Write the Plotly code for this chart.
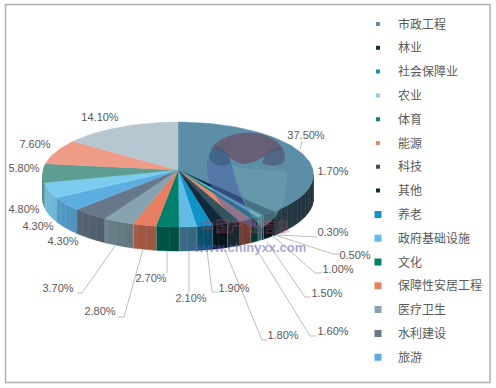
import math
import plotly.graph_objects as go

# ---- data (clockwise from 12 o'clock) ----
values = [37.5, 1.7, 0.3, 0.5, 1.0, 1.5, 1.6, 1.8, 1.9, 2.1, 2.7, 2.8, 3.7, 4.3, 4.3, 4.8, 5.8, 7.6, 14.1]
value_labels = ["37.50%", "1.70%", "0.30%", "0.50%", "1.00%", "1.50%", "1.60%", "1.80%", "1.90%", "2.10%",
                "2.70%", "2.80%", "3.70%", "4.30%", "4.30%", "4.80%", "5.80%", "7.60%", "14.10%"]
legend_names = ["市政工程", "林业", "社会保障业", "农业", "体育", "能源", "科技", "其他", "养老",
                "政府基础设施", "文化", "保障性安居工程", "医疗卫生", "水利建设", "旅游"]
colors = ["#5d8ea8", "#0f2f45", "#1a8fb5", "#8fd0e8", "#0f7f70", "#e8856c", "#35525f", "#0f2a3c", "#0f93c8",
          "#62bce6", "#007f6c", "#e67f62", "#88a3b0", "#66788a", "#5dade0", "#7cccf0", "#5e9e92", "#ee9c88", "#b5c7d0"]
legend_sizes = [4, 4, 4, 4, 4, 4, 4, 4, 7, 7, 7, 7, 7, 7, 7]

# ---- layout of the drawing, in pixels of the 496x388 page ----
CX, CY_APEX, CY, RX, RY, DEPTH = 178.0, 170.0, 174.5, 135.5, 52.5, 24.0
label_pos = [(306, 136), (333, 172), (333, 233), (355, 256), (338, 270), (327, 294), (333, 332), (283, 336),
             (234, 289), (191, 299), (151, 279), (100, 312), (58, 289), (63, 242), (38, 227), (24, 210),
             (24, 169), (35, 145), (100, 118)]
leaders = {
    0: [(300, 150), (302, 141)],
    2: [(278, 235), (307, 237), (317, 237)],
    3: [(275, 235), (333, 254), (340, 254)],
    4: [(272, 235), (315, 273), (322, 273)],
    5: [(267, 242), (305, 297), (311, 297)],
    6: [(254, 245), (310, 336), (316, 336)],
    7: [(224, 248), (262, 340), (267, 340)],
    8: [(207, 250), (212, 292), (218, 292)],
    9: [(189, 251), (189, 293)],
    10: [(167, 251), (167, 273)],
    11: [(143, 249), (124, 317), (118, 317)],
    12: [(115, 246), (82, 293), (77, 293)],
}


def rim(deg, dy=0.0):
    a = math.radians(deg)
    return CX + RX * math.sin(a), CY - RY * math.cos(a) + dy


def shade(hex_color, f):
    r, g, b = (int(hex_color[i:i + 2], 16) for i in (1, 3, 5))
    return f"rgb({int(r * f)},{int(g * f)},{int(b * f)})"


fig = go.Figure()

angles = []
acc = 0.0
for v in values:
    angles.append((acc * 3.6, (acc + v) * 3.6))
    acc += v

# side wall: only the front half of the rim (90 to 270 deg) is visible
STEP = 4.0
for (a0, a1), col in zip(angles, colors):
    s0, s1 = max(a0, 90.0), min(a1, 270.0)
    d = s0
    while d < s1 - 1e-6:
        e = min(d + STEP, s1)
        xs, ys = [], []
        for t in (d, e):
            x, y = rim(t)
            xs.append(x)
            ys.append(y)
        for t in (e, d):
            x, y = rim(t, DEPTH)
            xs.append(x)
            ys.append(y)
        mid = (d + e) / 2
        sx = math.sin(math.radians(mid))
        f = 0.62 - 0.30 * sx if sx < 0 else 0.58 - 0.22 * sx
        c = shade(col, f)
        fig.add_trace(go.Scatter(x=xs + xs[:1], y=ys + ys[:1], mode="lines", fill="toself", fillcolor=c,
                                 line=dict(color=c, width=0.5), hoverinfo="skip", showlegend=False))
        d = e
    if a1 > 90 and a1 < 225 and a0 >= 90:
        x, y = rim(a1)
        fig.add_trace(go.Scatter(x=[x, x], y=[y, y + DEPTH], mode="lines",
                                 line=dict(color="rgba(255,255,255,0.75)", width=1),
                                 hoverinfo="skip", showlegend=False))

# top face
for (a0, a1), col, lab in zip(angles, colors, value_labels):
    n = max(2, int((a1 - a0) / 2) + 1)
    xs, ys = [CX], [CY_APEX]
    for i in range(n + 1):
        x, y = rim(a0 + (a1 - a0) * i / n)
        xs.append(x)
        ys.append(y)
    xs.append(CX)
    ys.append(CY_APEX)
    fig.add_trace(go.Scatter(x=xs, y=ys, mode="lines", fill="toself", fillcolor=col,
                             line=dict(color=col, width=0.4), text=lab, hoverinfo="text", showlegend=False))

# leader lines
for pts in leaders.values():
    fig.add_trace(go.Scatter(x=[p[0] for p in pts], y=[p[1] for p in pts], mode="lines",
                             line=dict(color="#bdbdbd", width=1), hoverinfo="skip", showlegend=False))

# value labels
fig.add_trace(go.Scatter(x=[p[0] for p in label_pos], y=[p[1] for p in label_pos], mode="text",
                         text=value_labels, textposition="middle center",
                         textfont=dict(family="Liberation Sans", size=11, color="#595959"),
                         hoverinfo="skip", showlegend=False))

# legend entries
for i, (name, col, sz) in enumerate(zip(legend_names, colors, legend_sizes)):
    fig.add_trace(go.Scatter(x=[None], y=[None], mode="markers", name=name, legendgroup=f"g{i}",
                             marker=dict(symbol="square", size=sz, color=col)))

# watermark logo and text
logo = [
    ("M 207 165 C 207 150 222 146 232 165 C 238 190 250 210 258 228 C 232 224 207 195 207 165 Z", "#4a66a8", 0.55),
    ("M 232 165 C 250 172 270 168 287 172 C 288 200 278 220 262 228 C 248 215 236 190 232 165 Z", "#6d9fae", 0.6),
    ("M 210 150 C 225 128 270 126 284 150 C 270 148 262 162 245 164 C 232 164 224 148 210 150 Z", "#6b4f66", 0.75),
    ("M 209 155 C 214 142 226 144 231 163 C 224 168 210 166 209 155 Z", "#3f5f80", 0.8),
    ("M 262 163 C 266 150 278 142 284 152 C 288 162 280 170 262 163 Z", "#4f5a78", 0.75),
]
shapes = [dict(type="path", path=p, xref="x", yref="y", fillcolor=c, opacity=o, line=dict(width=0), layer="above")
          for p, c, o in logo]
# chart frame
shapes.append(dict(type="rect", xref="x", yref="y", x0=5.5, y0=4.5, x1=490, y1=382.5,
                   line=dict(color="#b0b0b0", width=1.5), fillcolor="rgba(0,0,0,0)", layer="below"))

annotations = [
    dict(x=245, y=225, text="<b>中国产业信息</b>", showarrow=False, xref="x", yref="y",
         font=dict(family="Noto Sans CJK SC", size=15, color="rgba(190,70,90,0.35)")),
    dict(x=249, y=247, text="<b>www.chinyxx.com</b>", showarrow=False, xref="x", yref="y",
         font=dict(family="Liberation Sans", size=13, color="rgba(90,90,190,0.55)")),
]

fig.update_layout(
    width=496, height=388, margin=dict(l=0, r=0, t=0, b=0),
    paper_bgcolor="white", plot_bgcolor="white",
    xaxis=dict(range=[0, 496], visible=False, fixedrange=True),
    yaxis=dict(range=[388, 0], visible=False, fixedrange=True),
    shapes=shapes, annotations=annotations,
    legend=dict(x=358 / 496, y=1 - 9.5 / 388, xanchor="left", yanchor="top", bgcolor="rgba(0,0,0,0)",
                tracegroupgap=4.8, itemsizing="trace", itemwidth=30,
                font=dict(family="Noto Sans CJK SC", size=12, color="#595959")),
)

fig.write_html("out.html", config={"displayModeBar": False},
               post_script="document.body.style.margin='0';document.body.style.overflow='hidden';")
